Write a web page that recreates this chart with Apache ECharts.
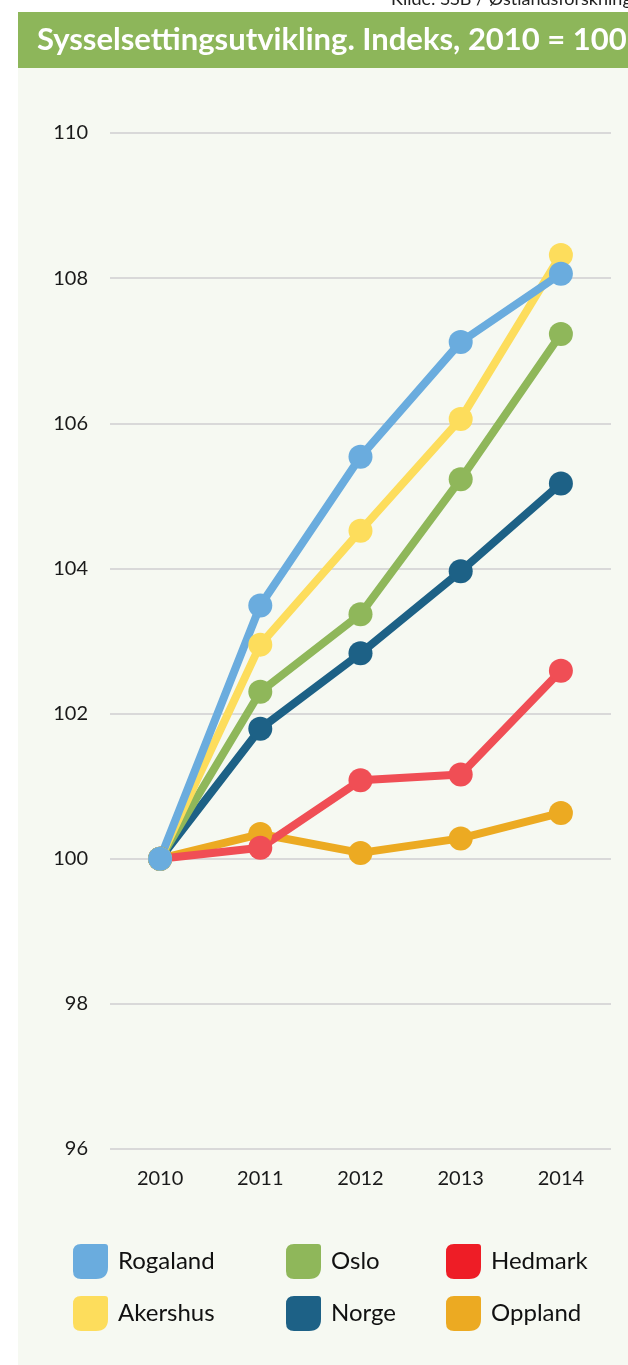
<!DOCTYPE html>
<html>
<head>
<meta charset="utf-8">
<script src="https://cdn.jsdelivr.net/npm/echarts@6/dist/echarts.min.js"></script>
<style>
html,body{margin:0;padding:0;background:#ffffff;}
#chart{width:628px;height:1365px;}
</style>
</head>
<body>
<div id="chart"></div>
<script>
const categories = ['2010', '2011', '2012', '2013', '2014'];
const rogaland = [100, 103.49, 105.54, 107.12, 108.06];
const akershus = [100, 102.95, 104.52, 106.06, 108.32];
const oslo     = [100, 102.30, 103.37, 105.23, 107.23];
const norge    = [100, 101.79, 102.83, 103.96, 105.17];
const hedmark  = [100, 100.15, 101.08, 101.16, 102.59];
const oppland  = [100, 100.34, 100.08, 100.28, 100.63];

const FONT = 'Lato';
const leafIcon = 'path://M8,0 L32,0 Q35,0 35,3 L35,23 Q35,35 23,35 L8,35 Q0,35 0,27 L0,8 Q0,0 8,0 Z';

const colors = {
  Rogaland: '#6aacde',
  Akershus: '#fddd5c',
  Oslo: '#8fb75a',
  Norge: '#1d6186',
  Hedmark: '#f04e55',
  Oppland: '#ecaa22'
};
const legendColors = {
  Rogaland: '#6aacde',
  Akershus: '#fddd5c',
  Oslo: '#8fb75a',
  Norge: '#1d6186',
  Hedmark: '#ee1d26',
  Oppland: '#ecaa22'
};

function mkSeries(name, data) {
  return {
    name: name,
    type: 'line',
    data: data,
    symbol: 'circle',
    symbolSize: 24,
    lineStyle: { width: 8, color: colors[name] },
    itemStyle: { color: colors[name] },
    emphasis: { disabled: true },
    animation: false
  };
}

function mkLegend(names, left) {
  return {
    orient: 'vertical',
    left: left,
    top: 1244,
    padding: 0,
    itemWidth: 35,
    itemHeight: 35,
    itemGap: 17,
    icon: leafIcon,
    textStyle: { fontFamily: FONT, fontSize: 24, color: '#111', padding: [0, 0, 0, 5] },
    data: names.map(n => ({ name: n, itemStyle: { color: legendColors[n] } }))
  };
}

const chart = echarts.init(document.getElementById('chart'));
chart.setOption({
  animation: false,
  backgroundColor: '#ffffff',
  graphic: [
    { type: 'rect', shape: { x: 18, y: 68, width: 610, height: 1297 }, style: { fill: '#f6f9f2' }, z: -10 },
    { type: 'rect', shape: { x: 18, y: 12, width: 610, height: 56 }, style: { fill: '#8db65a' }, z: -10 },
    { type: 'text', x: 37, y: 40, style: { text: 'Sysselsettingsutvikling. Indeks, 2010 = 100', fill: '#ffffff', font: 'bold 31px ' + FONT, verticalAlign: 'middle' } },
    { type: 'text', x: 391, y: -1, style: { text: 'Kilde: SSB / Østlandsforskning', fill: '#222', font: '18px ' + FONT, verticalAlign: 'middle' } }
  ],
  grid: { left: 110, right: 17, top: 133, bottom: 216 },
  xAxis: {
    type: 'category',
    data: categories,
    boundaryGap: true,
    axisLine: { show: false },
    axisTick: { show: false },
    axisLabel: { fontFamily: FONT, fontSize: 20, color: '#1a1a1a', margin: 20 }
  },
  yAxis: {
    type: 'value',
    min: 96,
    max: 110,
    interval: 2,
    axisLine: { show: false },
    axisTick: { show: false },
    axisLabel: { fontFamily: FONT, fontSize: 20, color: '#1a1a1a', margin: 22 },
    splitLine: { lineStyle: { color: '#d9d9d9', width: 2 } }
  },
  legend: [
    mkLegend(['Rogaland', 'Akershus'], 73),
    mkLegend(['Oslo', 'Norge'], 286),
    mkLegend(['Hedmark', 'Oppland'], 446)
  ],
  series: [
    mkSeries('Oppland', oppland),
    mkSeries('Hedmark', hedmark),
    mkSeries('Norge', norge),
    mkSeries('Oslo', oslo),
    mkSeries('Akershus', akershus),
    mkSeries('Rogaland', rogaland)
  ]
});
</script>
</body>
</html>
